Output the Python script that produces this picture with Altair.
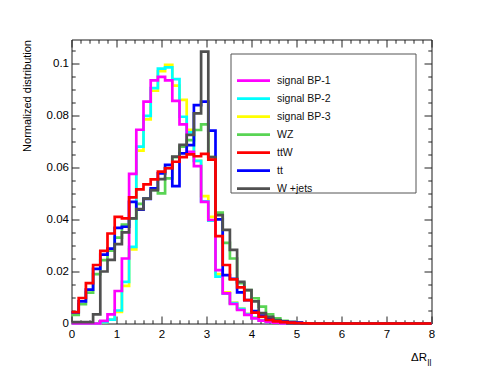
import altair as alt
import pandas as pd

# ---------------- data ----------------
BIN_WIDTH = 0.16
X_MAX = 8.0
Y_MAX = 0.1092

series_names = ["signal BP-1", "signal BP-2", "signal BP-3", "WZ", "ttW", "tt", "W +jets"]
series_colors = ["#ff00ff", "#00ffff", "#ffff00", "#59d454", "#ff0000", "#0000ff", "#505050"]
draw_order = ["signal BP-3", "signal BP-2", "signal BP-1", "WZ", "tt", "W +jets", "ttW"]

bp1 = [0, 0, 0, 0, 0.001, 0.0035, 0.0125, 0.025, 0.0575, 0.0745,
       0.0853, 0.0935, 0.0948, 0.0935, 0.0856, 0.0766, 0.066, 0.0605, 0.0468, 0.0398,
       0.0205, 0.0116, 0.0075, 0.0052, 0.0033, 0.002, 0.0011, 0.0006, 0.0003, 0,
       0, 0, 0, 0, 0, 0, 0, 0, 0, 0,
       0, 0, 0, 0, 0, 0, 0, 0, 0, 0]
bp2 = [0, 0, 0, 0, 0.0005, 0.0015, 0.005, 0.016, 0.0295, 0.068,
       0.0798, 0.0905, 0.098, 0.0985, 0.094, 0.0795, 0.0735, 0.0625, 0.047, 0.0395,
       0.018, 0.0115, 0.0078, 0.0056, 0.0036, 0.0022, 0.0012, 0.0006, 0.0003, 0,
       0, 0, 0, 0, 0, 0, 0, 0, 0, 0,
       0, 0, 0, 0, 0, 0, 0, 0, 0, 0]
bp3 = [0, 0, 0, 0, 0.0005, 0.0015, 0.0045, 0.0145, 0.0285, 0.0665,
       0.0785, 0.0895, 0.097, 0.0995, 0.0915, 0.086, 0.0745, 0.0625, 0.049, 0.041,
       0.019, 0.012, 0.008, 0.0057, 0.0037, 0.0023, 0.0013, 0.0007, 0.0003, 0,
       0, 0, 0, 0, 0, 0, 0, 0, 0, 0,
       0, 0, 0, 0, 0, 0, 0, 0, 0, 0]
wz = [0.0033, 0.0074, 0.0119, 0.019, 0.0244, 0.028, 0.033, 0.038, 0.0404, 0.046,
      0.048, 0.0513, 0.050, 0.0558, 0.064, 0.068, 0.0705, 0.0744, 0.0766, 0.064,
      0.0426, 0.031, 0.025, 0.0155, 0.0128, 0.0097, 0.0065, 0.0035, 0.002, 0.001,
      0.0006, 0.0003, 0, 0, 0, 0, 0, 0, 0, 0,
      0, 0, 0, 0, 0, 0, 0, 0, 0, 0]
ttw = [0.0044, 0.0098, 0.0155, 0.0225, 0.0279, 0.0346, 0.041, 0.0404, 0.0485, 0.0516,
       0.0535, 0.0554, 0.0584, 0.0597, 0.0622, 0.064, 0.065, 0.0643, 0.0652, 0.063,
       0.0336, 0.0225, 0.017, 0.0139, 0.009, 0.0042, 0.0026, 0.0014, 0.0008, 0.0005,
       0.0003, 0.0002, 0.0001, 0, 0, 0, 0, 0, 0, 0,
       0, 0, 0, 0, 0, 0, 0, 0, 0, 0]
tt = [0.0043, 0.0085, 0.013, 0.021, 0.0265, 0.0288, 0.0368, 0.0372, 0.0468, 0.0438,
      0.0479, 0.052, 0.0577, 0.061, 0.0528, 0.0654, 0.0686, 0.084, 0.0853, 0.0742,
      0.040, 0.0186, 0.0172, 0.012, 0.009, 0.0048, 0.003, 0.002, 0.0012, 0.0008,
      0.0005, 0.0003, 0, 0, 0, 0, 0, 0, 0, 0,
      0, 0, 0, 0, 0, 0, 0, 0, 0, 0]
wjets = [0.0005, 0.0005, 0.0005, 0.0035, 0.020, 0.0245, 0.0305, 0.035, 0.0404, 0.044,
         0.048, 0.0513, 0.0555, 0.0598, 0.0642, 0.0687, 0.0725, 0.0808, 0.1045, 0.064,
         0.0417, 0.036, 0.0283, 0.016, 0.0128, 0.0085, 0.004, 0.0026, 0.0013, 0.0006,
         0, 0, 0, 0, 0, 0, 0, 0, 0, 0,
         0, 0, 0, 0, 0, 0, 0, 0, 0, 0]

x_major = [0, 1, 2, 3, 4, 5, 6, 7, 8]
x_minor = [0.2, 0.4, 0.6, 0.8, 1.2, 1.4, 1.6, 1.8, 2.2, 2.4, 2.6, 2.8, 3.2, 3.4, 3.6, 3.8,
           4.2, 4.4, 4.6, 4.8, 5.2, 5.4, 5.6, 5.8, 6.2, 6.4, 6.6, 6.8, 7.2, 7.4, 7.6, 7.8]
y_major = [0, 0.02, 0.04, 0.06, 0.08, 0.1]
y_minor = [0.005, 0.01, 0.015, 0.025, 0.03, 0.035, 0.045, 0.05, 0.055, 0.065, 0.07, 0.075,
           0.085, 0.09, 0.095, 0.105]

values_by_name = {"signal BP-1": bp1, "signal BP-2": bp2, "signal BP-3": bp3,
                  "WZ": wz, "ttW": ttw, "tt": tt, "W +jets": wjets}

rows = []
for name in draw_order:
    vals = values_by_name[name]
    for i, v in enumerate(vals):
        rows.append({"series": name, "x": round(i * BIN_WIDTH, 4), "value": v})
    rows.append({"series": name, "x": X_MAX, "value": vals[-1]})
df = pd.DataFrame(rows)

# ---------------- layout ----------------
W, H = 360, 284
FONT = "Liberation Sans"
TICK_COLOR = "#222222"

xscale = alt.Scale(domain=[0, X_MAX], nice=False, zero=False)
yscale = alt.Scale(domain=[0, Y_MAX], nice=False, zero=False)

main = alt.Chart(df).mark_line(
    interpolate="step-after", strokeWidth=2.7, strokeJoin="miter", strokeCap="butt"
).encode(
    x=alt.X("x:Q", scale=xscale,
            axis=alt.Axis(orient="bottom", values=x_major, format="~g", ticks=False, domain=False,
                          grid=False, labelPadding=5, labelFlush=False, labelOverlap=False,
                          title="ΔR", titleX=355, titleY=37, titleAlign="right",
                          titleBaseline="alphabetic", titleFontWeight="normal", titleFontSize=11.5)),
    y=alt.Y("value:Q", scale=yscale,
            axis=alt.Axis(orient="left", values=y_major, format="~g", ticks=False, domain=False,
                          grid=False, labelPadding=3, labelFlush=False, labelOverlap=False,
                          title="Normalized distribution", titleX=-44, titleY=0,
                          titleAlign="right", titleAngle=270, titleBaseline="middle",
                          titleFontWeight="normal", titleFontSize=11)),
    color=alt.Color("series:N", scale=alt.Scale(domain=series_names, range=series_colors),
                    legend=alt.Legend(orient="none", legendX=164, legendY=32.5, title=None,
                                      symbolType="stroke", symbolSize=1089, symbolStrokeWidth=2.6,
                                      clipHeight=17.3, rowPadding=0, labelOffset=5.5,
                                      labelFontSize=10.5, labelFont=FONT, labelColor="#111111",
                                      padding=0)),
)


def tick_layer(x_orient, x_vals, x_len, y_orient, y_vals, y_len):
    return alt.Chart(df).mark_point(opacity=0, size=1).encode(
        x=alt.X("x:Q", scale=xscale,
                axis=alt.Axis(orient=x_orient, offset=-H, values=x_vals, tickSize=x_len,
                              labels=False, domain=False, grid=False, title=None,
                              tickColor=TICK_COLOR, tickWidth=1)),
        y=alt.Y("value:Q", scale=yscale,
                axis=alt.Axis(orient=y_orient, offset=-W, values=y_vals, tickSize=y_len,
                              labels=False, domain=False, grid=False, title=None,
                              tickColor=TICK_COLOR, tickWidth=1)),
    )


ticks_in_major = tick_layer("top", x_major, 7.5, "right", y_major, 7.5)
ticks_in_minor = tick_layer("top", x_minor, 3.7, "right", y_minor, 3.7)
ticks_out_major = tick_layer("bottom", x_major, 7.5, "left", y_major, 7.5)
ticks_out_minor = tick_layer("bottom", x_minor, 3.7, "left", y_minor, 3.7)

# subscript "ll" of the x-axis title, drawn as the title of an extra (empty) bottom axis
subscript_axis = alt.Chart(df).mark_point(opacity=0, size=1).encode(
    x=alt.X("x:Q", scale=xscale,
            axis=alt.Axis(orient="bottom", values=[], ticks=False, labels=False, domain=False,
                          grid=False, title="ll", titleX=355.6, titleY=41.5, titleAlign="left",
                          titleBaseline="alphabetic", titleFontWeight="normal",
                          titleFontSize=8.5)),
)

one = pd.DataFrame({"k": [0]})
legend_box = alt.Chart(one).mark_rect(fill="white", stroke="#555555", strokeWidth=1).encode(
    x=alt.value(159.5), x2=alt.value(344.5), y=alt.value(14.5), y2=alt.value(153.5)
)

chart = alt.layer(
    legend_box, ticks_in_major, ticks_in_minor, ticks_out_major, ticks_out_minor,
    subscript_axis, main
).resolve_axis(
    x="independent", y="independent"
).properties(
    width=W, height=H,
    padding={"left": 63.5, "top": 31.5, "right": 40, "bottom": 50},
    autosize=alt.AutoSizeParams(type="none"),
    background="white",
).configure_view(
    stroke="#1a1a1a", strokeWidth=1
).configure_axis(
    labelFont=FONT, titleFont=FONT, labelColor="black", titleColor="black", labelFontSize=11.5
)

chart.save("out.html", embed_options={"renderer": "svg", "actions": False})
